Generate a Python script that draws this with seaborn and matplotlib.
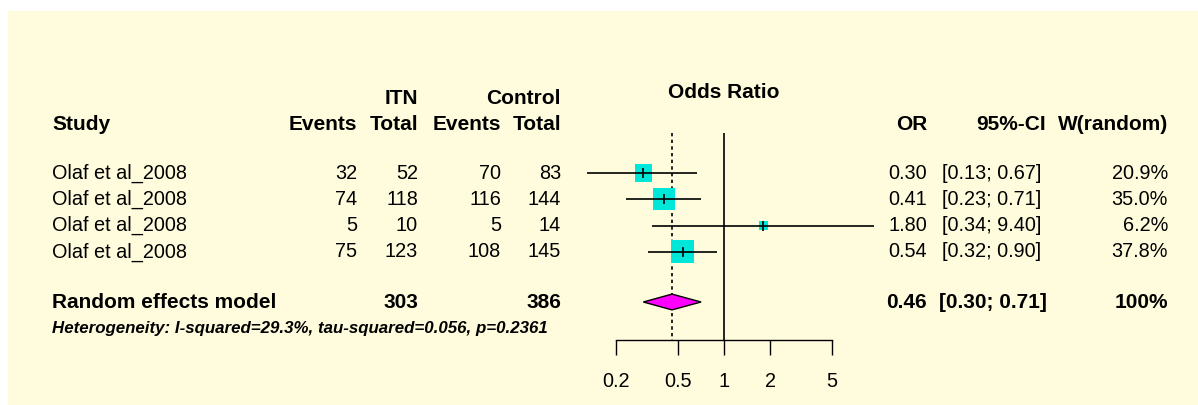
import numpy as np
import pandas as pd
import matplotlib
matplotlib.use("Agg")
import matplotlib.pyplot as plt
from matplotlib.patches import Polygon, Rectangle
import seaborn as sns

# study data
studies = ["Olaf et al_2008", "Olaf et al_2008", "Olaf et al_2008", "Olaf et al_2008"]
itn_events = [32, 74, 5, 75]
itn_total = [52, 118, 10, 123]
ctrl_events = [70, 116, 5, 108]
ctrl_total = [83, 144, 14, 145]
odds_ratio = [0.30, 0.41, 1.80, 0.54]
ci_low = [0.13, 0.23, 0.34, 0.32]
ci_high = [0.67, 0.71, 9.40, 0.90]
weights = [20.9, 35.0, 6.2, 37.8]

# random effects summary
pooled_or = 0.46
pooled_low = 0.30
pooled_high = 0.71
itn_sum = 303
ctrl_sum = 386
het_text = "Heterogeneity: I-squared=29.3%, tau-squared=0.056, p=0.2361"
or_ticks = [0.2, 0.5, 1, 2, 5]
or_tick_labels = ["0.2", "0.5", "1", "2", "5"]

df = pd.DataFrame({
    "study": studies, "e_itn": itn_events, "n_itn": itn_total,
    "e_ctrl": ctrl_events, "n_ctrl": ctrl_total,
    "or": odds_ratio, "lo": ci_low, "hi": ci_high, "w": weights,
})
df["row"] = np.arange(len(df))

sns.set_style("white")
plt.rcParams["font.family"] = ["Liberation Sans", "DejaVu Sans"]
plt.rcParams["text.color"] = "black"
plt.rcParams["xtick.color"] = "black"

W, H = 1198, 405
bg = "#FFFCDD"
cyan = "#00E6D8"
fs = 14.3
fs_b = 15.0


def row(py):
    # pixel height -> row units
    return (py - 173) / 26.3


summary_row = row(302)
het_row = row(328)

fig = plt.figure(figsize=(W / 100, H / 100), dpi=100)
fig.patch.set_facecolor("white")

ax = fig.add_axes([0, 0, 1, 1])
ax.set_xlim(0, W)
ax.set_ylim(row(H), row(0))
ax.axis("off")
ax.add_patch(Rectangle((8 / W, 0), 1 - 8 / W, 1 - 11 / H, transform=ax.transAxes,
                       color=bg, zorder=0))

# headers
hdr = dict(fontsize=fs_b, fontweight="bold", va="center")
ax.text(418, row(98), "ITN", ha="right", **hdr)
ax.text(561, row(98), "Control", ha="right", **hdr)
ax.text(52, row(125), "Study", ha="left", **hdr)
ax.text(357, row(125), "Events", ha="right", **hdr)
ax.text(418, row(125), "Total", ha="right", **hdr)
ax.text(501, row(125), "Events", ha="right", **hdr)
ax.text(561, row(125), "Total", ha="right", **hdr)
ax.text(724, row(93), "Odds Ratio", ha="center", **hdr)
ax.text(927, row(125), "OR", ha="right", **hdr)
ax.text(1046, row(125), "95%-CI", ha="right", **hdr)
ax.text(1168, row(125), "W(random)", ha="right", **hdr)

# study rows
for _, r in df.iterrows():
    y = r["row"]
    kw = dict(fontsize=fs, va="center")
    ax.text(52, y, r["study"], ha="left", **kw)
    ax.text(357, y, f"{r['e_itn']}", ha="right", **kw)
    ax.text(418, y, f"{r['n_itn']}", ha="right", **kw)
    ax.text(501, y, f"{r['e_ctrl']}", ha="right", **kw)
    ax.text(561, y, f"{r['n_ctrl']}", ha="right", **kw)
    ax.text(927, y, f"{r['or']:.2f}", ha="right", **kw)
    ax.text(942, y, f"[{r['lo']:.2f}; {r['hi']:.2f}]", ha="left", **kw)
    ax.text(1168, y, f"{r['w']:.1f}%", ha="right", **kw)

# summary row
ax.text(52, summary_row, "Random effects model", ha="left", **hdr)
ax.text(418, summary_row, f"{itn_sum}", ha="right", **hdr)
ax.text(561, summary_row, f"{ctrl_sum}", ha="right", **hdr)
ax.text(927, summary_row, f"{pooled_or:.2f}", ha="right", **hdr)
ax.text(939, summary_row, f"[{pooled_low:.2f}; {pooled_high:.2f}]", ha="left", **hdr)
ax.text(1168, summary_row, "100%", ha="right", **hdr)
ax.text(52, het_row, het_text, ha="left", va="center", fontsize=12.2,
        fontweight="bold", fontstyle="italic")

# forest panel
x0, x1 = 580, 880
fax = fig.add_axes([x0 / W, (H - 340) / H, (x1 - x0) / W, (340 - 11) / H])
fax.patch.set_alpha(0)
fax.set_xscale("log")
fax.set_xlim(np.exp((x0 - 724) / 67), np.exp((x1 - 724) / 67))
fax.set_ylim(row(340), row(11))

k = 7.2
sns.scatterplot(data=df, x="or", y="row", size="w",
                sizes=(min(weights) * k, max(weights) * k), marker="s",
                color=cyan, edgecolor="none", linewidth=0, legend=False,
                ax=fax, zorder=3)
fax.hlines(df["row"], df["lo"], df["hi"], color="black", lw=1.2, zorder=4)
fax.scatter(df["or"], df["row"], marker="|", s=50, color="black", lw=1.2, zorder=5)

fax.vlines(1, row(133), row(340), color="black", lw=1.2, zorder=2)
fax.vlines(pooled_or, row(133), row(340), color="black", lw=1.2,
           linestyles=(0, (2, 2)), zorder=2)

dh = 0.3
fax.add_patch(Polygon([(pooled_low, summary_row), (pooled_or, summary_row - dh),
                       (pooled_high, summary_row), (pooled_or, summary_row + dh)],
                      closed=True, fc="magenta", ec="black", lw=1, zorder=4))

for s in ["top", "left", "right"]:
    fax.spines[s].set_visible(False)
fax.spines["bottom"].set_bounds(min(or_ticks), max(or_ticks))
fax.spines["bottom"].set_color("black")
fax.spines["bottom"].set_linewidth(1)
fax.set_xticks(or_ticks, labels=or_tick_labels)
fax.minorticks_off()
fax.tick_params(axis="x", direction="out", length=10.8, width=1, pad=12,
                labelsize=fs, bottom=True, colors="black")
fax.set_yticks([])
fax.set_xlabel("")
fax.set_ylabel("")

fig.savefig("out.png", dpi=100)
